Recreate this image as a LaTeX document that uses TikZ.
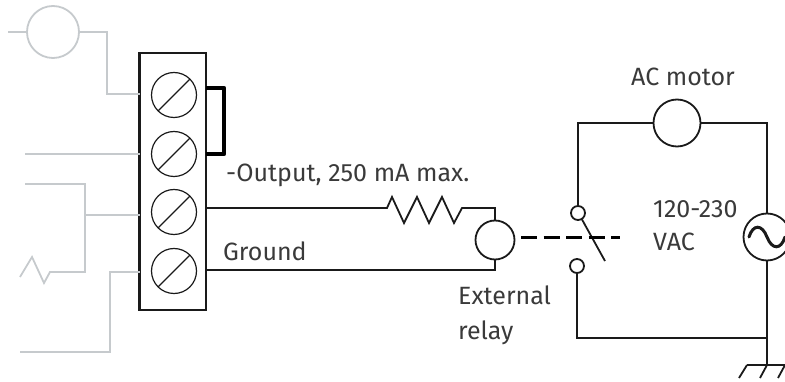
\documentclass[tikz,border=0pt]{standalone}
\usepackage{fontspec}
\setmainfont{Fira Sans}
\definecolor{graywire}{HTML}{C6CACD}
\definecolor{inkc}{HTML}{1A1A1A}
\definecolor{textc}{HTML}{3A3A3A}
\tikzset{
  ring/.style={circle,draw,inner sep=0pt,outer sep=0pt,minimum size=#1},
  wire/.style={draw=inkc,line width=1.8pt,line join=miter},
  ghost/.style={draw=graywire,line width=1.8pt},
  lab/.style={anchor=base west,inner sep=0pt,text=textc,font=\fontsize{25}{27}\selectfont},
  screwring/.style={ring=45pt,draw=inkc,line width=1.2pt}
}
\begin{document}
\begin{tikzpicture}[x=1pt,y=-1pt]
\useasboundingbox (0,0) rectangle (785,382);
\clip (0,0) rectangle (785,382);
% gray field wiring
\node[ring=52pt,ghost] (gm) at (53,32) {};
\coordinate (g0) at (8,32);
\coordinate (g1) at (20,352);
\coordinate (g2) at (25,154);
\coordinate (g3) at (25,184);
\coordinate (g4) at (20,277);
% terminal block
\node[draw=inkc,line width=2.4pt,minimum width=66.5pt,minimum height=257pt,inner sep=0pt,outer sep=0pt] (tb) at (172.75,181.5) {};
\coordinate (tl1) at (tb.west |- 0,94);
\coordinate (tl2) at (tb.west |- 0,154);
\coordinate (tl3) at (tb.west |- 0,215);
\coordinate (tl4) at (tb.west |- 0,272);
\draw[ghost] (g0) -- (gm.west);
\draw[ghost] (gm.east) -- (107,32) -- (107,94) -- (tl1);
\draw[ghost] (g2) -- (tl2);
\draw[ghost] (g3) -- (85,184) -- (85,272) -- (50,272) -- (44,283) -- (32,257) -- (g4);
\draw[ghost] (85,215) -- (tl3);
\draw[ghost] (tl4) -- (110,272) -- (110,352) -- (g1);
% screws
\foreach \n/\y in {1/95,2/154,3/212,4/271}{
  \node[screwring] (s\n) at (174,\y) {};
  \draw[inkc,line width=1.2pt] (s\n.225) -- (s\n.45);
}
% jumper
\coordinate (j1) at (tb.east |- 0,88);
\coordinate (j2) at (tb.east |- 0,154);
\draw[draw=black,line width=4.5pt,line join=round] (j1) -- (224,88) -- (224,154) -- (j2);
% relay coil
\node[ring=39pt,wire] (rel) at (495,240) {};
\coordinate (to) at (tb.east |- 0,208);
\coordinate (tg) at (tb.east |- 0,270);
\draw[wire] (to) -- (387,208) -- (392,197) -- (404,223) -- (417,197) -- (429,223) -- (442,197) -- (454,223) -- (462,208) -- (495,208) -- (rel.north);
\draw[wire] (tg) -- (495,270) -- (rel.south);
% switch
\node[ring=14pt,wire] (c1) at (578,213) {};
\node[ring=14pt,wire] (c2) at (577,266) {};
\node[ring=47pt,wire] (mot) at (677,123) {};
\node[ring=47pt,wire] (ac) at (767,237) {};
\coordinate (bladeend) at (605,261);
\coordinate (dash1) at (521,238);
\coordinate (dash2) at (620,238);
\coordinate (gnd) at (767,365);
\draw[wire] (582,219.5) -- (bladeend);
\draw[draw=black,line width=3pt,dash pattern=on 16pt off 6.5pt] (dash1) -- (dash2);
\draw[wire] (c1.north) -- (578,123) -- (mot.west);
\draw[wire] (mot.east) -- (767,123) -- (ac.north);
\draw[wire] (ac.south) -- (gnd);
\draw[wire] (c2.south) -- (577,338) -- (767,338);
% sine
\draw[inkc,line width=3pt,line cap=round] (749,237) .. controls (753,224) and (762,224) .. (767,237) .. controls (772,250) and (781,250) .. (785,237);
% ground
\draw[wire] (747,365) -- (785,365);
\draw[wire] (747,365) -- (739,378);
\draw[wire] (gnd) -- (760,378);
\draw[wire] (785,365) -- (778,378);
% labels
\node[lab] (l1) at (226,182) {-Output, 250 mA max.};
\node[lab] (l2) at (223,261) {Ground};
\node[lab] (l3) at (458,305) {External};
\node[lab] (l4) at (458,339) {relay};
\node[lab] (l5) at (631,86) {AC motor};
\node[lab] (l6) at (653,218) {120-230};
\node[lab] (l7) at (653,251) {VAC};
\end{tikzpicture}
\end{document}
